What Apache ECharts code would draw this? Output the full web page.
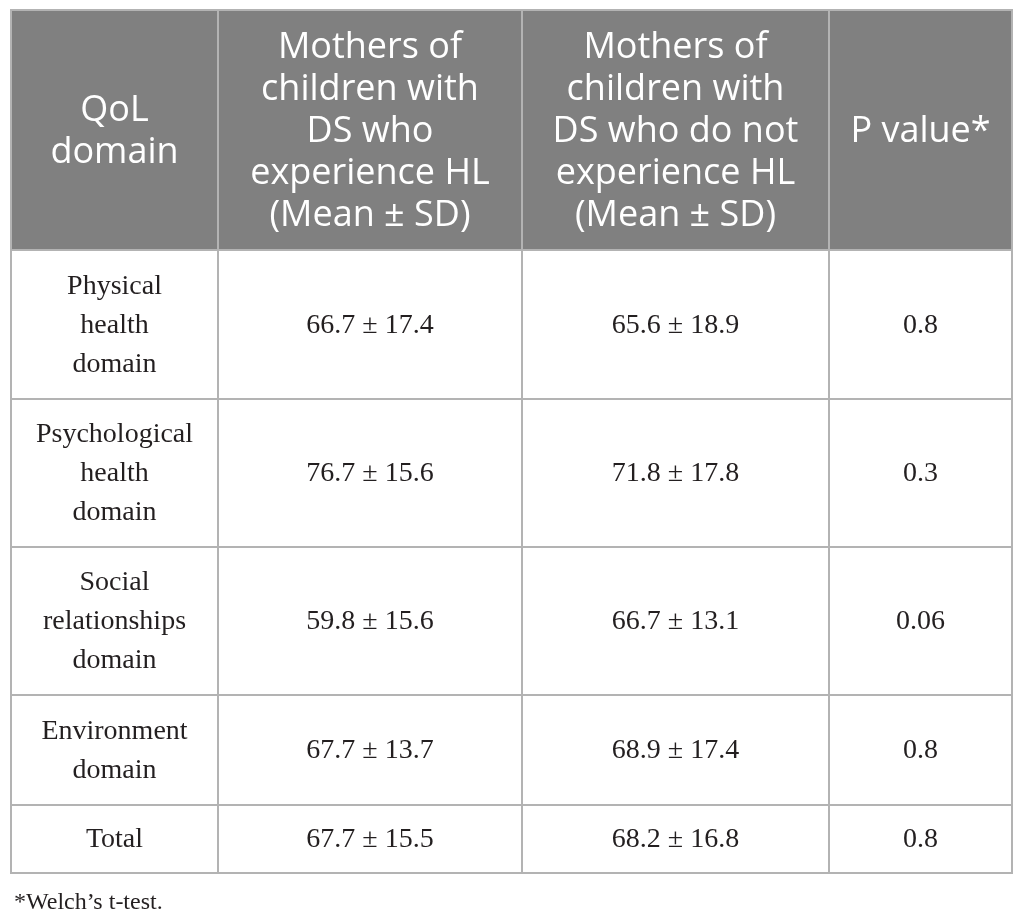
<!DOCTYPE html>
<html>
<head>
<meta charset="utf-8">
<title>QoL domains</title>
<script src="https://cdn.jsdelivr.net/npm/echarts@6/dist/echarts.min.js"></script>
<style>
  html, body { margin: 0; padding: 0; background: #fff; }
  #main { width: 1025px; height: 921px; }
</style>
</head>
<body>
<div id="main"></div>
<script>
// table content
const headers = [
  'QoL\ndomain',
  'Mothers of\nchildren with\nDS who\nexperience HL\n(Mean \u00b1 SD)',
  'Mothers of\nchildren with\nDS who do not\nexperience HL\n(Mean \u00b1 SD)',
  'P value*'
];
const domains = [
  'Physical\nhealth\ndomain',
  'Psychological\nhealth\ndomain',
  'Social\nrelationships\ndomain',
  'Environment\ndomain',
  'Total'
];
const hlMean = [66.7, 76.7, 59.8, 67.7, 67.7];
const hlSD = [17.4, 15.6, 15.6, 13.7, 15.5];
const noHlMean = [65.6, 71.8, 66.7, 68.9, 68.2];
const noHlSD = [18.9, 17.8, 13.1, 17.4, 16.8];
const pValues = [0.8, 0.3, 0.06, 0.8, 0.8];
const footnote = '*Welch\u2019s t-test.';

// layout (table units)
const colWidths = [207, 304, 307, 183];
const rowHeights = [240, 149, 148, 148, 110, 68];

function edges(sizes) {
  let e = [0];
  sizes.forEach(s => e.push(e[e.length - 1] + s));
  return e;
}
const colEdges = edges(colWidths);
const rowEdges = edges(rowHeights);

// one item per cell: [x0, y0, x1, y1, text, header?]
let cells = [];
headers.forEach((h, c) => {
  cells.push([colEdges[c], rowEdges[0], colEdges[c + 1], rowEdges[1], h, 1]);
});
domains.forEach((d, r) => {
  let row = [
    d,
    hlMean[r].toFixed(1) + ' \u00b1 ' + hlSD[r].toFixed(1),
    noHlMean[r].toFixed(1) + ' \u00b1 ' + noHlSD[r].toFixed(1),
    String(pValues[r])
  ];
  row.forEach((t, c) => {
    cells.push([colEdges[c], rowEdges[r + 1], colEdges[c + 1], rowEdges[r + 2], t, 0]);
  });
});

const chart = echarts.init(document.getElementById('main'));

chart.setOption({
  animation: false,
  title: {
    text: footnote,
    left: 9,
    top: 886,
    textStyle: {
      fontFamily: 'Liberation Serif',
      fontWeight: 'normal',
      fontSize: 24,
      color: '#231f20'
    }
  },
  grid: { left: 11, top: 10, width: 1001, height: 863 },
  xAxis: {
    type: 'value', min: 0, max: colEdges[colEdges.length - 1], show: false
  },
  yAxis: {
    type: 'value', min: 0, max: rowEdges[rowEdges.length - 1], inverse: true, show: false
  },
  series: [{
    type: 'custom',
    clip: false,
    encode: { x: [0, 2], y: [1, 3] },
    data: cells,
    renderItem: function (params, api) {
      const p0 = api.coord([api.value(0), api.value(1)]);
      const p1 = api.coord([api.value(2), api.value(3)]);
      const head = api.value(5) === 1;
      const text = cells[params.dataIndex][4];
      return {
        type: 'group',
        children: [{
          type: 'rect',
          shape: { x: p0[0], y: p0[1], width: p1[0] - p0[0], height: p1[1] - p0[1] },
          style: {
            fill: head ? '#808080' : '#ffffff',
            stroke: '#b3b3b3',
            lineWidth: 2
          }
        }, {
          type: 'text',
          x: (p0[0] + p1[0]) / 2,
          y: (p0[1] + p1[1]) / 2 + (head ? 2 : 1),
          style: {
            text: text,
            align: 'center',
            verticalAlign: 'middle',
            fill: head ? '#ffffff' : '#231f20',
            fontFamily: head ? 'Open Sans' : 'Liberation Serif',
            fontSize: head ? 36 : 28,
            lineHeight: head ? 42 : 39
          }
        }]
      };
    }
  }]
});
</script>
</body>
</html>
